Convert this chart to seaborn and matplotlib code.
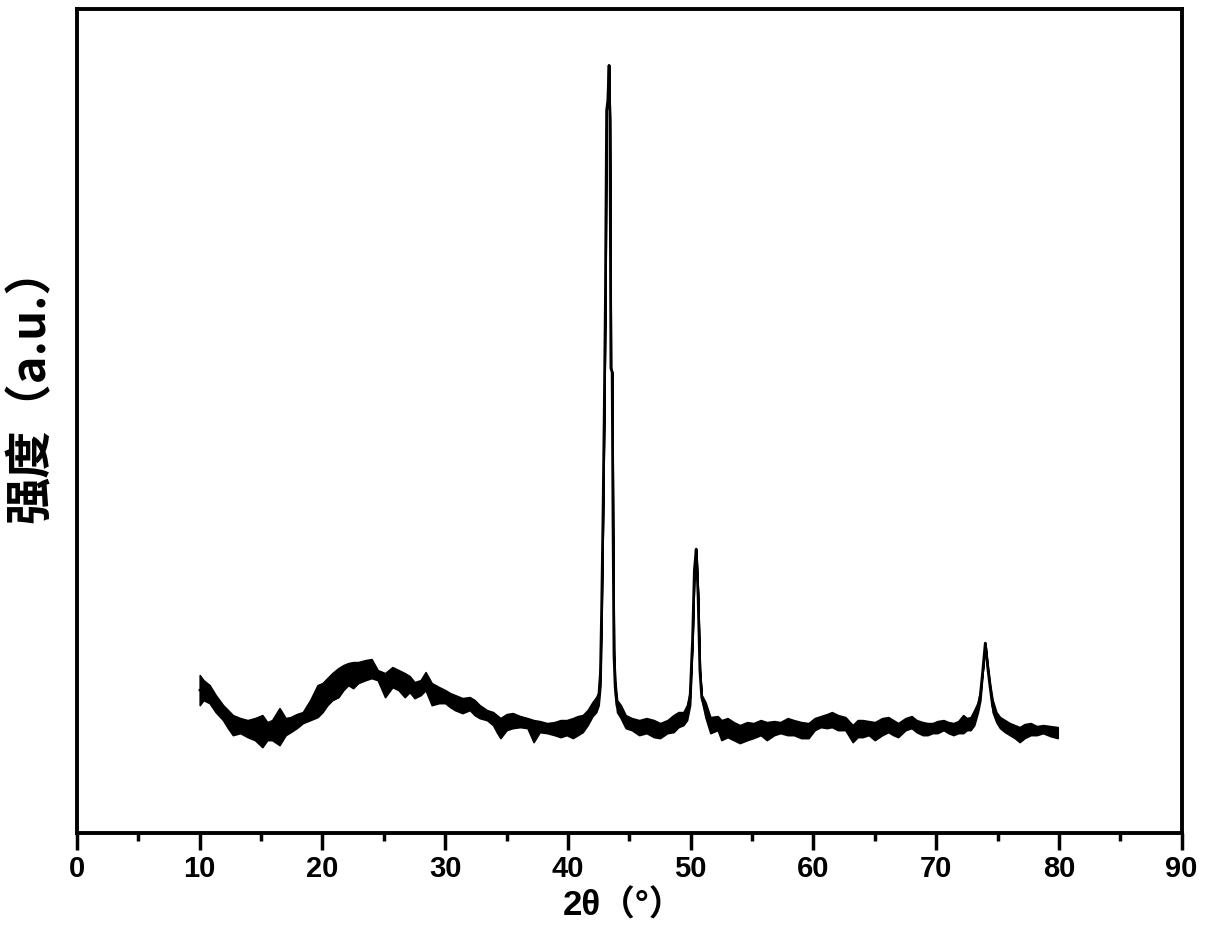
import numpy as np
import pandas as pd
import matplotlib
matplotlib.use("Agg")
import matplotlib.pyplot as plt
import seaborn as sns

# Patrón de difracción: 2θ, borde superior e inferior de la banda de ruido
two_theta = [
    10.0, 10.3, 10.8, 11.3, 11.9, 12.3, 12.7, 13.3, 13.9, 14.5, 15.1, 15.5, 15.9, 16.5, 17.0,
    17.4, 17.9, 18.4, 19.0, 19.6, 20.0, 20.4, 20.8, 21.3, 21.7, 22.1, 22.5, 22.9, 23.5, 24.0,
    24.5, 25.1, 25.7, 26.2, 26.7, 27.1, 27.5, 28.0, 28.4, 28.9, 29.5, 30.0, 30.4, 30.8, 31.4,
    32.0, 32.4, 32.8, 33.4, 33.9, 34.2, 34.5, 35.0, 35.5, 36.1, 36.7, 37.2, 37.7, 38.3, 38.9,
    39.4, 39.9, 40.4, 40.8, 41.2, 41.6, 42.0, 42.3, 42.5, 42.65, 42.75, 42.85, 42.95, 43.05, 43.15,
    43.25, 43.35, 43.42, 43.5, 43.6, 43.67, 43.75, 43.85, 44.0, 44.3, 44.7, 45.2, 45.8, 46.4, 47.0,
    47.5, 48.1, 48.6, 49.0, 49.4, 49.7, 49.95, 50.15, 50.3, 50.45, 50.6, 50.75, 50.9, 51.2, 51.6,
    52.2, 52.5, 53.0, 53.5, 54.0, 54.6, 55.1, 55.7, 56.2, 56.8, 57.3, 57.9, 58.4, 59.0, 59.6,
    60.1, 60.6, 61.1, 61.5, 62.0, 62.6, 63.2, 63.6, 64.0, 64.5, 65.0, 65.6, 66.1, 66.5, 66.9,
    67.5, 68.0, 68.4, 68.9, 69.3, 69.7, 70.1, 70.6, 71.0, 71.4, 71.8, 72.2, 72.5, 72.8, 73.1,
    73.4, 73.6, 73.8, 74.0, 74.2, 74.4, 74.6, 74.9, 75.2, 75.6, 76.0, 76.4, 76.8, 77.2, 77.7,
    78.2, 78.7, 79.3, 79.9,
]
upper = [
    158, 153, 148, 138, 128, 123, 118, 115, 113, 115, 118, 111, 113, 125, 115,
    116, 119, 121, 133, 148, 150, 155, 160, 165, 168, 170, 171, 171, 173, 174,
    163, 160, 166, 163, 160, 157, 151, 153, 161, 150, 146, 143, 140, 138, 135,
    136, 133, 128, 123, 121, 118, 115, 119, 120, 117, 115, 113, 112, 110, 111,
    113, 113, 115, 117, 118, 123, 131, 136, 141, 173, 233, 313, 413, 533, 723,
    733, 768, 713, 465, 461, 313, 183, 153, 133, 128, 118, 115, 113, 115, 113,
    110, 113, 118, 121, 121, 128, 143, 193, 263, 284, 238, 163, 138, 131, 116,
    117, 113, 115, 111, 108, 111, 110, 113, 111, 112, 111, 115, 113, 111, 110,
    115, 117, 119, 121, 118, 116, 108, 113, 113, 112, 111, 115, 116, 113, 110,
    115, 117, 113, 111, 110, 110, 112, 113, 111, 110, 112, 118, 115, 116, 123,
    131, 143, 163, 190, 168, 148, 133, 121, 116, 113, 110, 108, 106, 109, 110,
    107, 108, 107, 106,
]
lower = [
    128, 133, 130, 121, 113, 105, 98, 100, 96, 93, 86, 93, 93, 88, 98,
    101, 105, 110, 113, 116, 121, 128, 133, 136, 143, 148, 145, 150, 153, 155,
    153, 136, 146, 143, 136, 141, 135, 138, 143, 128, 130, 130, 126, 123, 120,
    123, 118, 115, 113, 108, 101, 95, 103, 105, 106, 105, 91, 101, 100, 98,
    96, 98, 95, 98, 101, 108, 117, 121, 128, 148, 223, 313, 413, 533, 723,
    733, 768, 713, 465, 461, 313, 173, 138, 121, 115, 105, 103, 98, 100, 96,
    95, 100, 101, 106, 108, 113, 128, 193, 263, 284, 238, 163, 133, 116, 100,
    103, 93, 96, 93, 90, 93, 95, 98, 93, 98, 100, 98, 98, 95, 95,
    103, 106, 105, 106, 103, 103, 91, 96, 96, 98, 93, 98, 101, 98, 96,
    103, 105, 101, 98, 98, 100, 100, 103, 100, 98, 100, 100, 103, 103, 108,
    121, 133, 163, 190, 163, 143, 121, 111, 105, 101, 98, 95, 91, 95, 98,
    98, 100, 97, 95,
]

xticks = [0, 10, 20, 30, 40, 50, 60, 70, 80, 90]

df = pd.DataFrame({
    "2theta": two_theta + two_theta,
    "intensidad": upper + lower,
})

sns.set_style("ticks")
plt.rcParams["font.family"] = ["Liberation Sans", "Noto Sans CJK SC", "DejaVu Sans"]
plt.rcParams["text.color"] = "black"
plt.rcParams["xtick.color"] = "black"

fig = plt.figure(figsize=(12.22, 9.35), dpi=100)
ax = fig.add_axes([0.063, 0.109, 0.904, 0.881])

sns.lineplot(
    data=df, x="2theta", y="intensidad", ax=ax,
    estimator="mean", errorbar=("pi", 100),
    color="black", linewidth=2,
    err_kws={"alpha": 1, "facecolor": "black", "edgecolor": "black", "linewidth": 1.2},
)

ax.set_xlim(0, 90)
ax.set_ylim(0, 824)
ax.set_xticks(xticks)
ax.set_xticks([5, 15, 25, 35, 45, 55, 65, 75, 85], minor=True)
ax.set_yticks([])
ax.tick_params(axis="x", which="major", direction="out", length=12, width=2.5,
               labelsize=21, pad=4, colors="black")
ax.tick_params(axis="x", which="minor", direction="out", length=6, width=2.5, colors="black")
for lbl in ax.get_xticklabels():
    lbl.set_fontweight("bold")

for s in ax.spines.values():
    s.set_linewidth(2.8)
    s.set_color("black")

ax.set_xlabel("2θ（°）", fontsize=25, fontweight="bold", color="black",
              family=["Liberation Sans", "Noto Sans CJK SC", "DejaVu Sans"])
ax.xaxis.set_label_coords(0.495, -0.068)
ax.set_ylabel("强度（a.u.）", fontsize=34, fontweight="bold", color="black",
              family=["Noto Sans CJK SC", "DejaVu Sans"])
ax.yaxis.set_label_coords(-0.020, 0.545)

fig.savefig("out.png", dpi=100)
